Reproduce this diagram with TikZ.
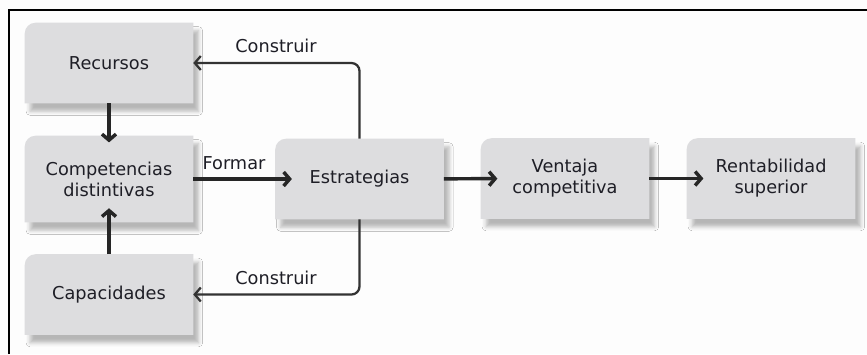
\documentclass[tikz,border=0pt]{standalone}
\usepackage{fontspec}
\setmainfont{DejaVu Sans}
\usetikzlibrary{arrows.meta,backgrounds,shadows.blur}
\definecolor{boxgray}{RGB}{221,221,223}
\definecolor{inkgray}{RGB}{30,30,38}
\definecolor{pagebg}{RGB}{253,253,253}
\tikzset{
  panel/.style={minimum width=126pt, minimum height=60pt, align=center, inner sep=0pt,
    text=inkgray, font=\fontsize{13.3}{15.8}\selectfont},
  tag/.style={text=inkgray, font=\fontsize{13.3}{15.8}\selectfont, inner sep=0pt},
  flow/.style={line width=2.6pt, draw=black!85, -{Straight Barb[length=4.5pt,width=10.5pt]}},
  build/.style={line width=1.7pt, draw=black!80, rounded corners=6pt,
    -{Straight Barb[length=4.5pt,width=10.5pt]}}
}
\begin{document}
\begin{tikzpicture}[x=0.75pt, y=-0.75pt]
  \useasboundingbox (0,0) rectangle (867,354);
  % boxes
  \node [panel] (rec) at (109,63) {Recursos};
  \node [panel, minimum height=64.5pt] (comp) at (109,179) {Competencias\\distintivas};
  \node [panel] (cap) at (109,294.5) {Capacidades};
  \node [panel] (strat) at (359.5,179) {Estrategias};
  \node [panel] (vent) at (565,178.5) {Ventaja\\competitiva};
  \node [panel] (rent) at (771,178.5) {Rentabilidad\\superior};
  \begin{scope}[on background layer]
    \fill [pagebg] (0,0) rectangle (867,354);
    \foreach \n in {rec,comp,cap,strat,vent,rent}
    {
      \fill [boxgray, blur shadow={shadow xshift=4pt, shadow yshift=-6pt,
          shadow blur radius=3pt, shadow opacity=28}]
        (\n.south west) -- ([yshift=-8pt]\n.north west)
        arc [start angle=180, end angle=90, radius=8pt]
        -- (\n.north east) -- (\n.south east) -- cycle;
    }
  \end{scope}
  % frame
  \draw [line width=1.2pt] (9,354) -- (9,10) -- (867,10);
  % arrows
  \draw [flow, shorten >=-5pt] (rec) -- (comp);
  \draw [flow, shorten >=-10.5pt] (cap) -- (comp);
  \draw [flow, shorten >=-12.5pt] (comp) -- (strat);
  \draw [flow, shorten >=-12.5pt] (strat) -- (vent);
  \draw [flow, shorten >=-12.5pt] (vent) -- (rent);
  \draw [build] (strat.north) |- (rec.east);
  \draw [build] (strat.south) |- (cap.east);
  \node [tag] (buildtop) at (276,46) {Construir};
  \node [tag] (buildbot) at (276,278) {Construir};
  \node [tag] (form) at (234,163) {Formar};
\end{tikzpicture}
\end{document}
